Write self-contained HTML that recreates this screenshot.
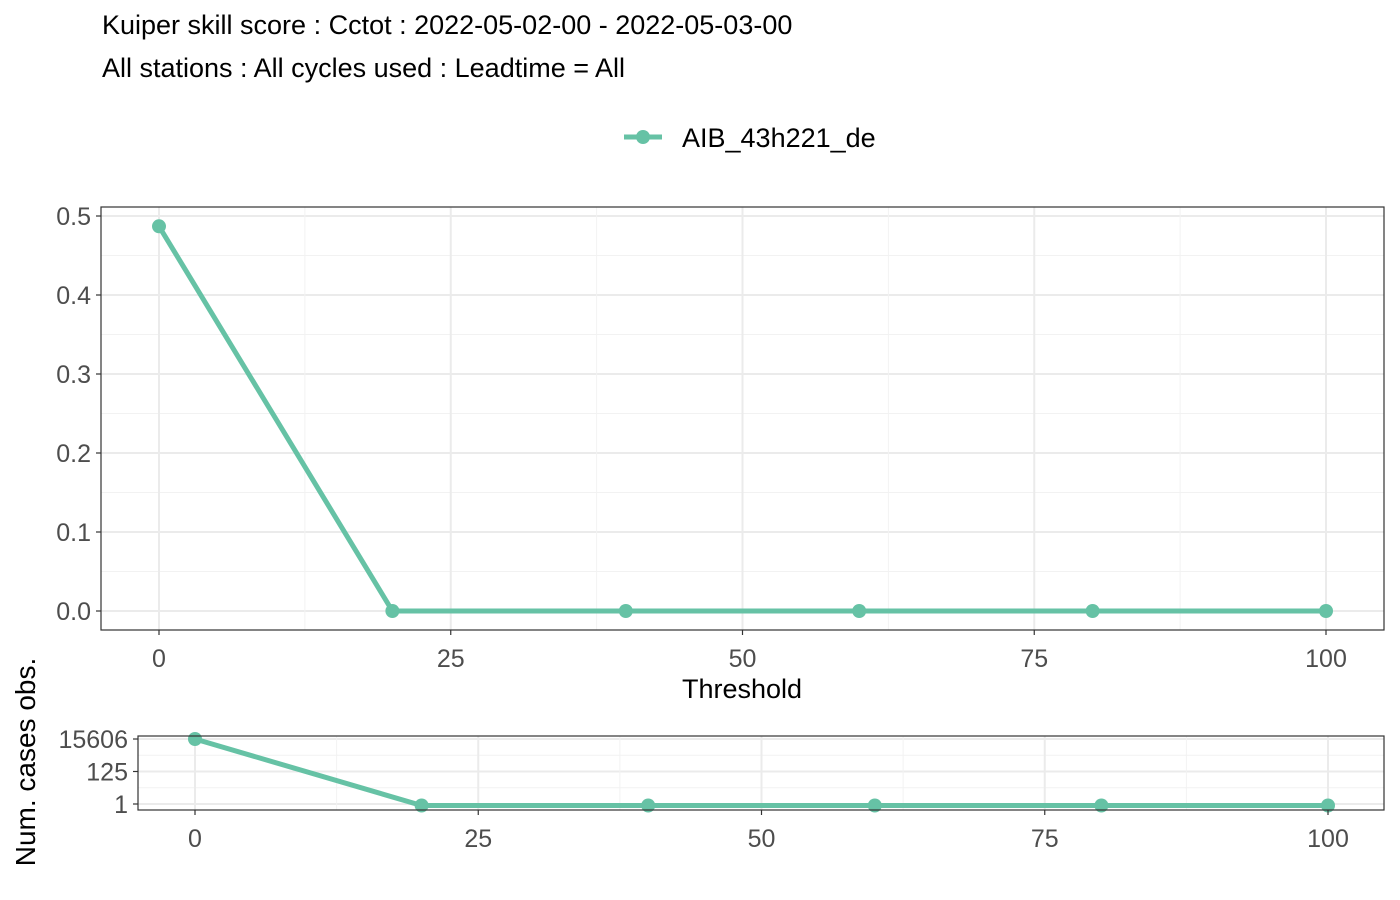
<!DOCTYPE html>
<html><head><meta charset="utf-8"><style>
body{margin:0;background:#fff;}
svg{display:block;font-family:"Liberation Sans",sans-serif;}
</style></head><body>
<svg id="c" width="1400" height="900">
<text x="102" y="34" font-size="27" fill="#000">Kuiper skill score : Cctot : 2022-05-02-00 - 2022-05-03-00</text>
<text x="102" y="77" font-size="27" fill="#000">All stations : All cycles used : Leadtime = All</text>
<g>
<line x1="624" y1="137" x2="662" y2="137" stroke="#66c2a5" stroke-width="5"/>
<circle cx="643" cy="137" r="7" fill="#66c2a5"/>
<text x="682" y="147" font-size="27" fill="#000">AIB_43h221_de</text>
</g>
<text x="742" y="698" font-size="27" text-anchor="middle" fill="#000">Threshold</text>
<text transform="translate(35,762) rotate(-90)" font-size="28" text-anchor="middle" fill="#000">Num. cases obs.</text>
<g id="main"></g><g id="low"></g>
</svg>
<script>
const thresholds=[0,20,40,60,80,100];
const kss=[0.487,0,0,0,0,0];
const cases=[15606,0.8,0.8,0.8,0.8,0.8];
const xTicks=[0,25,50,75,100];
const yTicks=[0,0.1,0.2,0.3,0.4,0.5];
const yTickLabels=["0.0","0.1","0.2","0.3","0.4","0.5"];
const lowTicks=[1,125,15606];
const NS="http://www.w3.org/2000/svg";
function mk(p,t,a){const e=document.createElementNS(NS,t);for(const k in a)e.setAttribute(k,a[k]);p.appendChild(e);return e;}
const col="#66c2a5";
const FS=25;
const M=document.getElementById('main');
const L=101,R=1384,T=207,B=630;
const xs=v=>159+v*11.67, ys=v=>611-v*790;
for(let i=0;i<yTicks.length;i++){const g=mk(M,'line',{x1:L,x2:R,y1:ys(yTicks[i]),y2:ys(yTicks[i]),stroke:'#ebebeb','stroke-width':2});
 if(i<yTicks.length-1){mk(M,'line',{x1:L,x2:R,y1:ys(yTicks[i]+0.05),y2:ys(yTicks[i]+0.05),stroke:'#f2f2f2','stroke-width':1});}}
for(let i=0;i<xTicks.length;i++){const g=mk(M,'line',{x1:xs(xTicks[i]),x2:xs(xTicks[i]),y1:T,y2:B,stroke:'#ebebeb','stroke-width':2});
 if(i<xTicks.length-1)mk(M,'line',{x1:xs(xTicks[i]+12.5),x2:xs(xTicks[i]+12.5),y1:T,y2:B,stroke:'#f2f2f2','stroke-width':1});}
let pts=thresholds.map((t,i)=>xs(t)+','+ys(kss[i])).join(' ');
const pl=mk(M,'polyline',{points:pts,fill:'none',stroke:col,'stroke-width':5});

thresholds.forEach((t,i)=>{const c=mk(M,'circle',{cx:xs(t),cy:ys(kss[i]),r:7,fill:col});});
const fr=mk(M,'rect',{x:L,y:T,width:R-L,height:B-T,fill:'none',stroke:'#333','stroke-width':1.2});

yTicks.forEach((v,i)=>{mk(M,'line',{x1:L-5,x2:L,y1:ys(v),y2:ys(v),stroke:'#333','stroke-width':1.2});
 const t=mk(M,'text',{x:L-10,y:ys(v)+9,'font-size':FS,'text-anchor':'end',fill:'#4d4d4d'});t.textContent=yTickLabels[i];
 });
xTicks.forEach(v=>{mk(M,'line',{x1:xs(v),x2:xs(v),y1:B,y2:B+5,stroke:'#333','stroke-width':1.2});
 const t=mk(M,'text',{x:xs(v),y:B+37,'font-size':FS,'text-anchor':'middle',fill:'#4d4d4d'});t.textContent=v;
 });
const W=document.getElementById('low');
const L2=138,R2=1384,T2=736,B2=810;
const xs2=v=>195+v*11.33, ys2=v=>804-Math.log10(v)*15.5;
lowTicks.forEach((v,i)=>{mk(W,'line',{x1:L2,x2:R2,y1:ys2(v),y2:ys2(v),stroke:'#ebebeb','stroke-width':2});
 if(i<lowTicks.length-1){const m=Math.sqrt(v*lowTicks[i+1]);mk(W,'line',{x1:L2,x2:R2,y1:ys2(m),y2:ys2(m),stroke:'#f2f2f2','stroke-width':1});}});
xTicks.forEach((v,i)=>{mk(W,'line',{x1:xs2(v),x2:xs2(v),y1:T2,y2:B2,stroke:'#ebebeb','stroke-width':2});
 if(i<xTicks.length-1)mk(W,'line',{x1:xs2(v+12.5),x2:xs2(v+12.5),y1:T2,y2:B2,stroke:'#f2f2f2','stroke-width':1});});
const pl2=mk(W,'polyline',{points:thresholds.map((t,i)=>xs2(t)+','+ys2(cases[i])).join(' '),fill:'none',stroke:col,'stroke-width':5});

thresholds.forEach((t,i)=>{const c=mk(W,'circle',{cx:xs2(t),cy:ys2(cases[i]),r:7,fill:col});});
const fr2=mk(W,'rect',{x:L2,y:T2,width:R2-L2,height:B2-T2,fill:'none',stroke:'#333','stroke-width':1.2});

lowTicks.forEach(v=>{mk(W,'line',{x1:L2-5,x2:L2,y1:ys2(v),y2:ys2(v),stroke:'#333','stroke-width':1.2});
 const t=mk(W,'text',{x:L2-10,y:ys2(v)+9,'font-size':FS,'text-anchor':'end',fill:'#4d4d4d'});t.textContent=v;
 });
xTicks.forEach(v=>{mk(W,'line',{x1:xs2(v),x2:xs2(v),y1:B2,y2:B2+5,stroke:'#333','stroke-width':1.2});
 const t=mk(W,'text',{x:xs2(v),y:B2+37,'font-size':FS,'text-anchor':'middle',fill:'#4d4d4d'});t.textContent=v;
 });
</script>
</body></html>
